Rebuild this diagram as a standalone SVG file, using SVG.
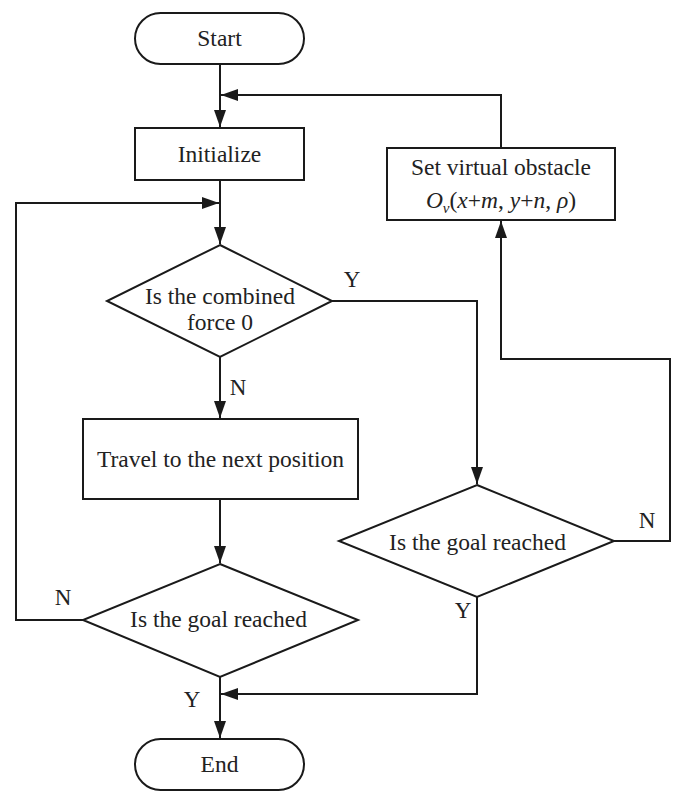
<svg xmlns="http://www.w3.org/2000/svg" width="690" height="806" viewBox="0 0 690 806">
  <style>
    .shape { fill: #ffffff; stroke: #1a1a1a; stroke-width: 2; }
    .line { fill: none; stroke: #1a1a1a; stroke-width: 2; }
    .txt { font-family: "Liberation Serif", "Times New Roman", serif; font-size: 23.5px; fill: #222222; text-anchor: middle; }
    .lbl { font-family: "Liberation Serif", "Times New Roman", serif; font-size: 23px; fill: #222222; text-anchor: middle; }
    .it { font-style: italic; }
  </style>
  <defs>
    <marker id="arrow" markerUnits="userSpaceOnUse" markerWidth="18" markerHeight="12" refX="17" refY="6" orient="auto">
      <path d="M0,0 L17,6 L0,12 Z" fill="#1a1a1a"/>
    </marker>
  </defs>
  <rect width="690" height="806" fill="#ffffff"/>

  <g id="connectors">
    <path class="line" d="M220,64 V127" marker-end="url(#arrow)"/>
    <path class="line" d="M501,148 V95 H221" marker-end="url(#arrow)"/>
    <path class="line" d="M220,180 V244" marker-end="url(#arrow)"/>
    <path class="line" d="M83,620 H16 V203 H219" marker-end="url(#arrow)"/>
    <path class="line" d="M220,357 V418" marker-end="url(#arrow)"/>
    <path class="line" d="M332,301 H477 V484" marker-end="url(#arrow)"/>
    <path class="line" d="M614,541 H670 V359 H501 V221" marker-end="url(#arrow)"/>
    <path class="line" d="M220,499 V563" marker-end="url(#arrow)"/>
    <path class="line" d="M477,597 V694 H221" marker-end="url(#arrow)"/>
    <path class="line" d="M220,677 V738" marker-end="url(#arrow)"/>
    <text class="lbl" x="352" y="287">Y</text>
    <text class="lbl" x="238" y="395">N</text>
    <text class="lbl" x="647" y="528">N</text>
    <text class="lbl" x="463" y="618">Y</text>
    <text class="lbl" x="63" y="605">N</text>
    <text class="lbl" x="192" y="707">Y</text>
  </g>

  <g id="start">
    <rect class="shape" x="135" y="13" width="169" height="51" rx="25.5" ry="25.5"/>
    <text class="txt" x="219.5" y="46">Start</text>
  </g>

  <g id="initialize">
    <rect class="shape" x="135" y="128" width="169" height="52"/>
    <text class="txt" x="219.5" y="162">Initialize</text>
  </g>

  <g id="virtual-obstacle">
    <rect class="shape" x="387" y="148" width="228" height="72"/>
    <text class="txt" x="501" y="175">Set virtual obstacle</text>
    <text class="txt" x="501" y="208"><tspan class="it">O</tspan><tspan class="it" font-size="15" dy="5">v</tspan><tspan dy="-5">(</tspan><tspan class="it">x</tspan>+<tspan class="it">m</tspan>, <tspan class="it">y</tspan>+<tspan class="it">n</tspan>, <tspan class="it">ρ</tspan>)</text>
  </g>

  <g id="combined-force">
    <polygon class="shape" points="220,245 332,301 220,357 107,301"/>
    <text class="txt" x="220" y="304">Is the combined</text>
    <text class="txt" x="220" y="330">force 0</text>
  </g>

  <g id="travel">
    <rect class="shape" x="83" y="419" width="275" height="80"/>
    <text class="txt" x="220.5" y="467">Travel to the next position</text>
  </g>

  <g id="goal-right">
    <polygon class="shape" points="477,485 614,541 477,597 339,541"/>
    <text class="txt" x="477.5" y="550">Is the goal reached</text>
  </g>

  <g id="goal-left">
    <polygon class="shape" points="220,564 358,620 220,677 83,620"/>
    <text class="txt" x="218.5" y="627">Is the goal reached</text>
  </g>

  <g id="end">
    <rect class="shape" x="135" y="739" width="169" height="51" rx="25.5" ry="25.5"/>
    <text class="txt" x="219.5" y="772">End</text>
  </g>
</svg>
